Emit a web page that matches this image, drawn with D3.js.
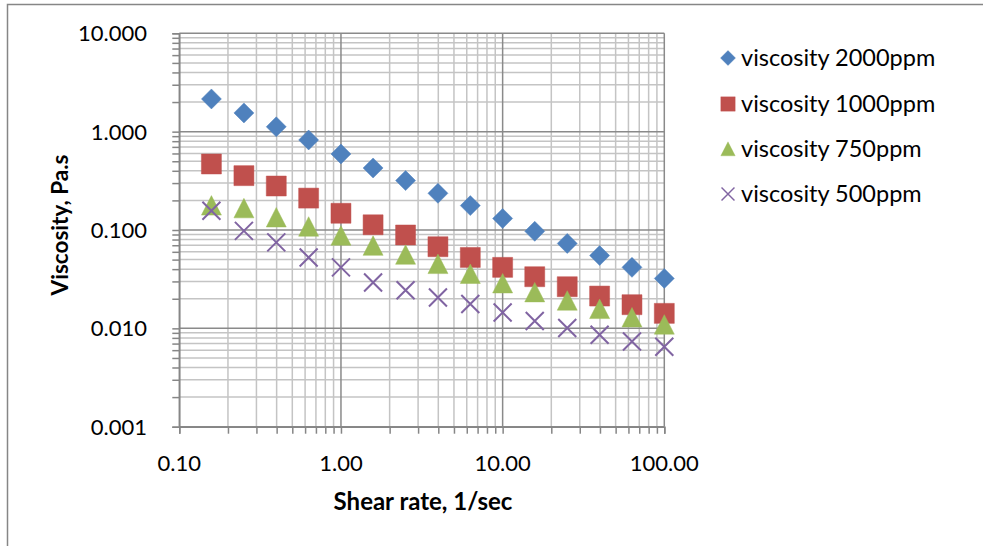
<!DOCTYPE html>
<html>
<head>
<meta charset="utf-8">
<script src="https://cdn.jsdelivr.net/npm/d3@7"></script>
<style>
  html, body { margin: 0; padding: 0; background: #fff; }
  svg { display: block; }
  text { font-family: Lato, "Open Sans", sans-serif; fill: #000; }
</style>
</head>
<body>
<svg id="chart" width="983" height="546"></svg>
<script>
// ---- data ----
const shearRate = [0.158, 0.251, 0.398, 0.631, 1.0, 1.58, 2.51, 3.98, 6.31, 10.0, 15.8, 25.1, 39.8, 63.1, 100.0];
const visc2000 = [2.15, 1.55, 1.12, 0.823, 0.593, 0.427, 0.318, 0.236, 0.177, 0.131, 0.097, 0.073, 0.055, 0.0417, 0.0322];
const visc1000 = [0.469, 0.357, 0.28, 0.211, 0.148, 0.113, 0.089, 0.0676, 0.0526, 0.0417, 0.0335, 0.0265, 0.0213, 0.0174, 0.0142];
const visc750  = [0.177, 0.166, 0.134, 0.108, 0.0875, 0.069, 0.056, 0.045, 0.0357, 0.0286, 0.0232, 0.0191, 0.0157, 0.0129, 0.0109];
const visc500  = [0.157, 0.098, 0.0748, 0.0526, 0.0417, 0.0293, 0.0244, 0.0206, 0.0177, 0.0145, 0.0119, 0.0101, 0.0086, 0.00736, 0.0065];
const seriesNames = ["viscosity 2000ppm", "viscosity 1000ppm", "viscosity 750ppm", "viscosity 500ppm"];
const xTickLabels = ["0.10", "1.00", "10.00", "100.00"];
const yTickLabels = ["0.001", "0.010", "0.100", "1.000", "10.000"];
const xTitle = "Shear rate, 1/sec";
const yTitle = "Viscosity, Pa.s";

const series = [
  {name: seriesNames[0], values: visc2000, color: "#4F81BD", shape: "diamond"},
  {name: seriesNames[1], values: visc1000, color: "#C0504D", shape: "square"},
  {name: seriesNames[2], values: visc750,  color: "#9BBB59", shape: "triangle"},
  {name: seriesNames[3], values: visc500,  color: "#8064A2", shape: "x"}
];

const svg = d3.select("#chart");

// outer chart border (left and top visible)
svg.append("rect").attr("x", 7.5).attr("y", 4.5).attr("width", 1000).attr("height", 600)
  .attr("fill", "none").attr("stroke", "#868686").attr("stroke-width", 1.5);

const x = d3.scaleLog().domain([0.1, 100]).range([179.3, 664.3]);
const y = d3.scaleLog().domain([0.001, 10]).range([426.7, 33.3]);

const xMajor = xTickLabels.map(Number);
const yMajor = yTickLabels.map(Number);
const xAll = x.ticks();
const yAll = y.ticks();
const isMajor = v => Math.abs(Math.log10(v) - Math.round(Math.log10(v))) < 1e-6;

const grid = svg.append("g");
// minor grid
grid.selectAll(".vmin").data(xAll.filter(v => !isMajor(v))).join("line")
  .attr("x1", d => x(d)).attr("x2", d => x(d)).attr("y1", y(10)).attr("y2", y(0.001))
  .attr("stroke", "#c4c4c4").attr("stroke-width", 1.5);
grid.selectAll(".hmin").data(yAll.filter(v => !isMajor(v))).join("line")
  .attr("y1", d => y(d)).attr("y2", d => y(d)).attr("x1", x(0.1)).attr("x2", x(100))
  .attr("stroke", "#c4c4c4").attr("stroke-width", 1.5);
// major grid
grid.selectAll(".vmaj").data(xAll.filter(isMajor)).join("line")
  .attr("x1", d => x(d)).attr("x2", d => x(d)).attr("y1", y(10)).attr("y2", y(0.001))
  .attr("stroke", "#8a8a8a").attr("stroke-width", 1.5);
grid.selectAll(".hmaj").data(yAll.filter(isMajor)).join("line")
  .attr("y1", d => y(d)).attr("y2", d => y(d)).attr("x1", x(0.1)).attr("x2", x(100))
  .attr("stroke", "#8a8a8a").attr("stroke-width", 1.5);

// axes
const xAxis = d3.axisBottom(x).tickValues(xAll).tickSize(7).tickFormat("");
const yAxis = d3.axisLeft(y).tickValues(yAll).tickSize(7).tickFormat("");
const gx = svg.append("g").attr("transform", `translate(0,${y(0.001)})`).call(xAxis);
const gy = svg.append("g").attr("transform", `translate(${x(0.1)},0)`).call(yAxis);
[gx, gy].forEach(g => {
  g.select(".domain").attr("stroke", "#868686").attr("stroke-width", 1.5);
  g.selectAll(".tick line").attr("stroke", "#868686").attr("stroke-width", 1.5);
});

// tick labels
svg.selectAll(".xl").data(xMajor).join("text")
  .attr("x", d => x(d)).attr("y", 471).attr("text-anchor", "middle")
  .attr("font-size", 22).text((d, i) => xTickLabels[i]);
svg.selectAll(".yl").data(yMajor).join("text")
  .attr("x", 147).attr("y", d => y(d) + 8).attr("text-anchor", "end")
  .attr("font-size", 22).text((d, i) => yTickLabels[i]);

// axis titles
svg.append("text").attr("x", 423).attr("y", 510).attr("text-anchor", "middle")
  .attr("font-size", 24).attr("font-weight", "bold").text(xTitle);
svg.append("text").attr("transform", "translate(68,225) rotate(-90)").attr("text-anchor", "middle")
  .attr("font-size", 22.5).attr("font-weight", "bold").text(yTitle);

// marker paths
function markerPath(shape) {
  switch (shape) {
    case "diamond": return "M0,-10 L10,0 L0,10 L-10,0 Z";
    case "square": return "M-10,-10 L10,-10 L10,10 L-10,10 Z";
    case "triangle": return "M0,-10 L10,9.5 L-10,9.5 Z";
    case "x": return "M-9,-9 L9,9 M-9,9 L9,-9";
  }
}
function drawMarker(g, shape, color) {
  const p = g.append("path").attr("d", markerPath(shape));
  if (shape === "x") p.attr("fill", "none").attr("stroke", color).attr("stroke-width", 2);
  else p.attr("fill", color).attr("stroke", color).attr("stroke-width", 0.8).attr("stroke-opacity", 0.6);
}

series.forEach(s => {
  const g = svg.append("g");
  g.selectAll("g").data(s.values.map((v, i) => [shearRate[i], v])).join("g")
    .attr("transform", d => `translate(${x(d[0])},${y(d[1])})`)
    .each(function() { drawMarker(d3.select(this), s.shape, s.color); });
});

// legend
const legendY = [58, 104, 149, 194];
const legendScale = [0.75, 0.72, 0.72, 0.72];
series.forEach((s, i) => {
  const g = svg.append("g").attr("transform", `translate(728,${legendY[i]})`);
  const m = g.append("g").attr("transform", `scale(${legendScale[i]})`);
  drawMarker(m, s.shape, s.color);
  g.append("text").attr("x", 13).attr("y", 8).attr("font-size", 23.5).text(s.name);
});
</script>
</body>
</html>
